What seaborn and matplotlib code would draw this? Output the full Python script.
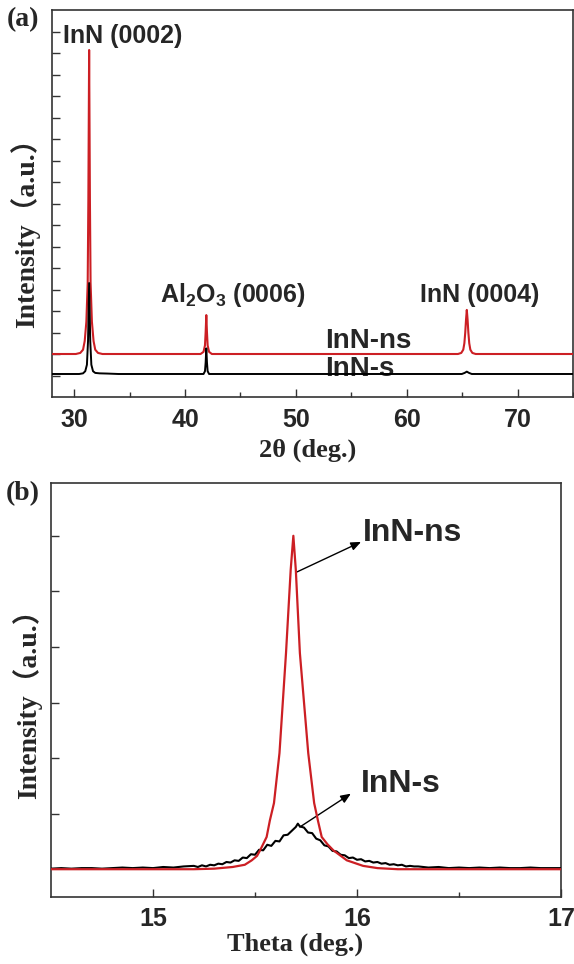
"""InN 박막의 XRD 2θ 스캔과 rocking curve 비교 그림."""

import matplotlib

matplotlib.use("Agg")
import matplotlib.pyplot as plt
import numpy as np
import pandas as pd
import seaborn as sns

# (a) 2theta scan, intensity in arbitrary offset units
two_theta_ns = [28.0, 30.15, 30.55, 30.8, 30.95, 31.1, 31.22, 31.28, 31.35,
                31.42, 31.48, 31.6, 31.75, 31.9, 32.15, 32.55, 41.4, 41.67,
                41.8, 41.86, 41.92, 41.98, 42.04, 42.17, 42.42, 64.62, 64.92,
                65.1, 65.2, 65.28, 65.35, 65.42, 65.49, 65.56, 65.64, 65.74,
                65.92, 66.22, 75.0]
intensity_ns = [1.0, 1.0, 1.05, 1.2, 1.6, 2.5, 4.3, 8.2, 15.14,
                8.2, 4.3, 2.5, 1.6, 1.2, 1.05, 1.0, 1.0, 1.1,
                1.4, 2.0, 2.81, 2.0, 1.4, 1.1, 1.0, 1.0, 1.05,
                1.2, 1.5, 2.0, 2.6, 3.05, 2.6, 2.0, 1.5, 1.2,
                1.05, 1.0, 1.0]

two_theta_s = [28.0, 30.45, 30.8, 31.0, 31.15, 31.25, 31.35, 31.45, 31.55,
               31.7, 31.9, 32.3, 33.0, 34.0, 41.67, 41.8, 41.86, 41.92,
               41.98, 42.04, 42.17, 64.97, 65.22, 65.42, 65.62, 65.87, 75.0]
intensity_s = [0.07, 0.07, 0.1, 0.2, 0.5, 1.6, 4.3, 1.6, 0.5,
               0.2, 0.12, 0.1, 0.09, 0.07, 0.07, 0.2, 0.6, 1.26,
               0.6, 0.2, 0.07, 0.07, 0.12, 0.18, 0.12, 0.07, 0.07]

# (b) rocking curves
theta_ns = [14.5, 15.0, 15.2, 15.3, 15.39, 15.45, 15.484, 15.51, 15.525,
            15.557, 15.573, 15.593, 15.62, 15.652, 15.675, 15.688, 15.7,
            15.72, 15.761, 15.79, 15.81, 15.827, 15.855, 15.884, 15.95,
            16.03, 16.1, 16.2, 17.0]
rocking_ns = [0.0, 0.0, 0.0, 0.01, 0.04, 0.08, 0.16, 0.24, 0.34,
              0.58, 0.88, 1.19, 2.09, 3.89, 5.39, 6.0, 5.39,
              3.89, 2.09, 1.19, 0.85, 0.58, 0.45, 0.34, 0.16,
              0.06, 0.02, 0.0, 0.0]

theta_s = [14.5, 14.55, 14.6, 14.65, 14.7, 14.75, 14.8, 14.85, 14.9, 14.95,
           15.0, 15.05, 15.1, 15.15,
           15.2, 15.22, 15.24, 15.26, 15.28, 15.3, 15.32, 15.34, 15.36, 15.38,
           15.4, 15.42, 15.44, 15.46, 15.48, 15.5, 15.52, 15.54, 15.56, 15.58,
           15.6, 15.62, 15.64, 15.66, 15.68, 15.7, 15.71, 15.72, 15.74, 15.76,
           15.78, 15.8, 15.82, 15.84, 15.86, 15.88, 15.9, 15.92, 15.94, 15.96,
           15.98, 16.0, 16.02, 16.04, 16.06, 16.08, 16.1, 16.12, 16.14, 16.16,
           16.18, 16.2, 16.22, 16.24, 16.26, 16.28, 16.3,
           16.35, 16.4, 16.45, 16.5, 16.55, 16.6, 16.65, 16.7, 16.75, 16.8,
           16.85, 16.9, 16.95, 17.0]
rocking_s = [0.01, 0.02, 0.01, 0.02, 0.02, 0.01, 0.02, 0.03, 0.02, 0.03,
             0.02, 0.04, 0.03, 0.05,
             0.06, 0.04, 0.07, 0.05, 0.08, 0.07, 0.10, 0.09, 0.13, 0.12,
             0.16, 0.15, 0.21, 0.20, 0.27, 0.26, 0.35, 0.34, 0.44, 0.42,
             0.51, 0.50, 0.61, 0.62, 0.69, 0.76, 0.82, 0.77, 0.75, 0.66,
             0.65, 0.55, 0.52, 0.43, 0.41, 0.33, 0.32, 0.26, 0.25, 0.20,
             0.21, 0.17, 0.18, 0.14, 0.15, 0.12, 0.13, 0.10, 0.11, 0.08,
             0.09, 0.07, 0.08, 0.05, 0.06, 0.05, 0.05,
             0.03, 0.04, 0.02, 0.03, 0.02, 0.03, 0.02, 0.03, 0.02, 0.02,
             0.03, 0.02, 0.02, 0.02]

RED = "#cc1f24"
SANS = ["Liberation Sans", "DejaVu Sans"]
SERIF = ["Liberation Serif", "Noto Sans CJK SC", "DejaVu Serif"]

sns.set_style("ticks")
plt.rcParams["font.family"] = SANS
plt.rcParams["font.weight"] = "bold"
plt.rcParams["mathtext.fontset"] = "custom"
plt.rcParams["mathtext.rm"] = "Liberation Sans:bold"
plt.rcParams["mathtext.bf"] = "Liberation Sans:bold"
plt.rcParams["mathtext.it"] = "Liberation Sans:bold"

fig = plt.figure(figsize=(5.74, 9.64), dpi=100)
ax_a = fig.add_axes([52 / 574, 1 - 397 / 964, 521 / 574, 387 / 964])
ax_b = fig.add_axes([51 / 574, 1 - 897 / 964, 510 / 574, 414 / 964])

scan_ns = pd.DataFrame({"x": two_theta_ns, "y": intensity_ns})
scan_s = pd.DataFrame({"x": two_theta_s, "y": intensity_s})
sns.lineplot(data=scan_ns, x="x", y="y", ax=ax_a, color=RED, lw=1.5,
             estimator=None, zorder=3)
sns.lineplot(data=scan_s, x="x", y="y", ax=ax_a, color="black", lw=1.4,
             estimator=None, zorder=4)

rock_ns = pd.DataFrame({"x": theta_ns, "y": rocking_ns})
rock_s = pd.DataFrame({"x": theta_s, "y": rocking_s})
sns.lineplot(data=rock_s, x="x", y="y", ax=ax_b, color="black", lw=1.5,
             estimator=None, zorder=3)
sns.lineplot(data=rock_ns, x="x", y="y", ax=ax_b, color=RED, lw=1.6,
             estimator=None, zorder=4)

for ax in (ax_a, ax_b):
    for spine in ax.spines.values():
        spine.set_linewidth(1.2)
        spine.set_color("#333333")
    ax.tick_params(direction="in", which="major", length=5.5, width=1.0,
                   color="#333333", labelsize=18, pad=8)
    ax.tick_params(direction="in", which="minor", length=3.5, width=1.0,
                   color="#333333")
    ax.tick_params(axis="y", labelleft=False)
    for lbl in ax.get_xticklabels():
        lbl.set_fontweight("bold")

ax_a.set_xlim(28, 75)
ax_a.set_ylim(-1.0, 17.0)
ax_a.set_xticks([30, 40, 50, 60, 70])
ax_a.set_xticks([35, 45, 55, 65, 75], minor=True)
ax_a.set_yticks(np.arange(0, 17))
ax_a.set_xlabel("2θ (deg.)", family=SERIF, fontsize=19, fontweight="bold")
ax_a.set_ylabel("Intensity（a.u.）", family=SERIF, fontsize=20,
                fontweight="bold")
ax_a.xaxis.set_label_coords(0.49, -0.108)
ax_a.yaxis.set_label_coords(-0.023, 0.44)

ax_b.set_xlim(14.5, 17)
ax_b.set_ylim(-0.5, 6.95)
ax_b.set_xticks([15, 16, 17])
ax_b.set_xticks([15.5, 16.5], minor=True)
ax_b.set_yticks(np.arange(1, 7))
ax_b.tick_params(axis="x", pad=7)
ax_b.set_xlabel("Theta (deg.)", family=SERIF, fontsize=19, fontweight="bold")
ax_b.set_ylabel("Intensity（a.u.）", family=SERIF, fontsize=20,
                fontweight="bold")
ax_b.xaxis.set_label_coords(0.478, -0.085)
ax_b.yaxis.set_label_coords(-0.018, 0.483)

# peak labels, panel (a)
ax_a.text(28.99, 15.48, "InN (0002)", fontsize=18, fontweight="bold",
          ha="left", va="baseline")
ax_a.text(44.28, 3.43, r"Al$_\mathrm{2}$O$_\mathrm{3}$ (0006)", fontsize=18,
          fontweight="bold", ha="center", va="baseline")
ax_a.text(66.6, 3.43, "InN (0004)", fontsize=18, fontweight="bold",
          ha="center", va="baseline")
ax_a.text(52.63, 1.28, "InN-ns", fontsize=20, fontweight="bold",
          ha="left", va="baseline")
ax_a.text(52.63, -0.02, "InN-s", fontsize=20, fontweight="bold",
          ha="left", va="baseline", zorder=1)

# sample labels with arrows, panel (b)
arrow = dict(arrowstyle="-|>,head_length=0.6,head_width=0.25", color="black",
             lw=1.0, shrinkA=0, shrinkB=0)
ax_b.annotate("", xy=(16.02, 5.89), xytext=(15.706, 5.35), arrowprops=arrow)
ax_b.annotate("", xy=(15.97, 1.36), xytext=(15.72, 0.76), arrowprops=arrow)
ax_b.text(16.03, 5.9, "InN-ns", fontsize=23, fontweight="bold",
          ha="left", va="baseline")
ax_b.text(16.02, 1.39, "InN-s", fontsize=23, fontweight="bold",
          ha="left", va="baseline")

fig.text(23 / 574, 1 - 20 / 964, "(a)", family=SERIF, fontsize=20,
         fontweight="bold", ha="center", va="center")
fig.text(23 / 574, 1 - 494 / 964, "(b)", family=SERIF, fontsize=20,
         fontweight="bold", ha="center", va="center")

fig.savefig("out.png", dpi=100)
